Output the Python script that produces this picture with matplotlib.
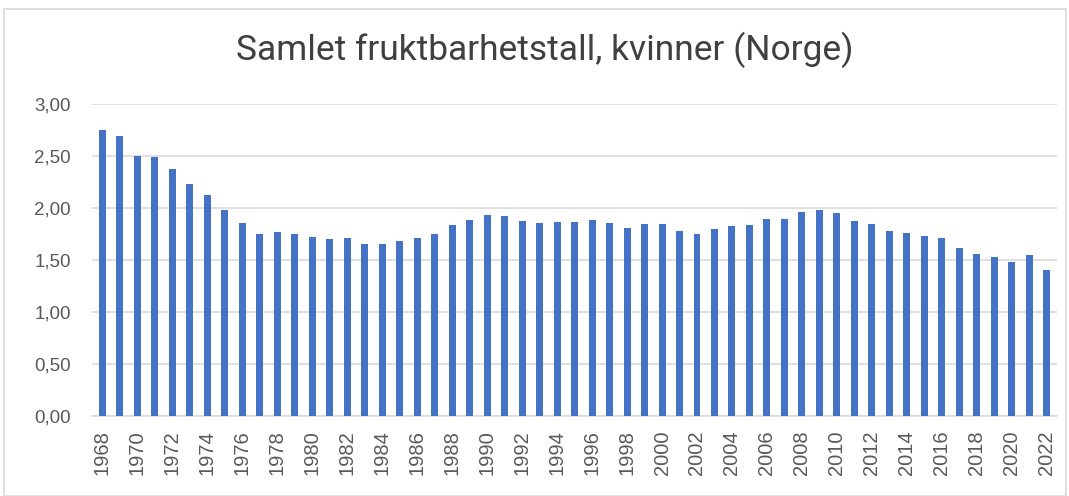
import numpy as np
import matplotlib
matplotlib.use("Agg")
import matplotlib.pyplot as plt
from matplotlib.patches import Rectangle
from matplotlib.ticker import FuncFormatter

# Samlet fruktbarhetstall, kvinner (Norge)
years = list(range(1968, 2023))
tfr = [2.75, 2.69, 2.50, 2.49, 2.38, 2.23, 2.13, 1.98, 1.86, 1.75,
       1.77, 1.75, 1.72, 1.70, 1.71, 1.66, 1.66, 1.68, 1.71, 1.75,
       1.84, 1.89, 1.93, 1.92, 1.88, 1.86, 1.87, 1.87, 1.89, 1.86,
       1.81, 1.85, 1.85, 1.78, 1.75, 1.80, 1.83, 1.84, 1.90, 1.90,
       1.96, 1.98, 1.95, 1.88, 1.85, 1.78, 1.76, 1.73, 1.71, 1.62,
       1.56, 1.53, 1.48, 1.55, 1.41]
title = "Samlet fruktbarhetstall, kvinner (Norge)"

plt.rcParams['font.family'] = ['Liberation Sans', 'DejaVu Sans']

fig = plt.figure(figsize=(10.69, 4.96), dpi=100)
fig.patches.append(Rectangle((0.004, 0.0), 0.993, 0.982, transform=fig.transFigure,
                             fill=False, edgecolor='#d9d9d9', linewidth=1.2))
ax = fig.add_axes([0.086, 0.161, 0.903, 0.629])

x = np.arange(len(years))
ax.bar(x, tfr, width=0.4, color='#4472C4', zorder=3)

ax.set_ylim(0, 3.0)
ax.set_yticks(np.arange(0, 3.01, 0.5))
ax.yaxis.set_major_formatter(FuncFormatter(lambda v, p: f"{v:.2f}".replace('.', ',')))
ax.set_xlim(-0.6, len(years) - 0.4)
ax.set_xticks(x[::2])
ax.set_xticklabels([str(y) for y in years[::2]], rotation=90)

ax.grid(axis='y', color='#d9d9d9', linewidth=1.2, zorder=0)
for s in ['top', 'right', 'left']:
    ax.spines[s].set_visible(False)
ax.spines['bottom'].set_color('#d9d9d9')
ax.spines['bottom'].set_linewidth(1.2)
ax.tick_params(axis='both', length=0, colors='#595959')
ax.tick_params(axis='y', labelsize=13.5, pad=15)
ax.tick_params(axis='x', labelsize=14.5, pad=10)

fig.text(0.51, 0.9, title, ha='center', va='center', fontsize=25.5, color='#404040',
         family=['Roboto', 'Open Sans'])

fig.savefig("out.png", dpi=100, facecolor='white')
